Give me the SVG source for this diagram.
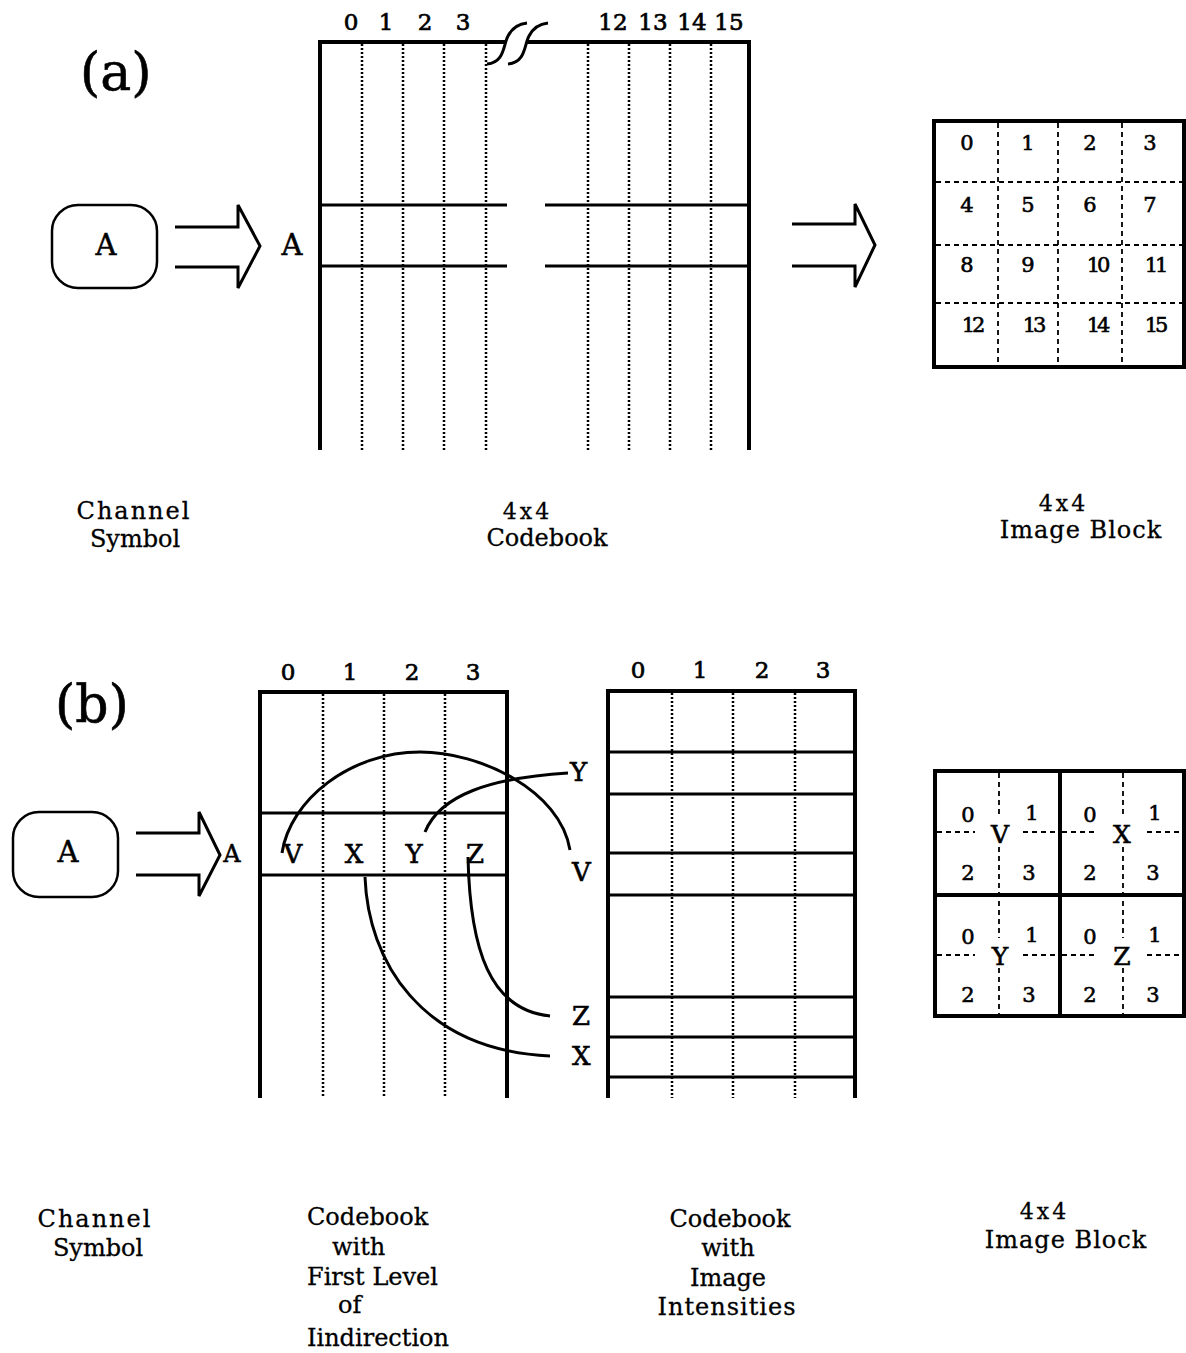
<svg xmlns="http://www.w3.org/2000/svg" width="1186" height="1353" viewBox="0 0 1186 1353">
<style>
text{font-family:"DejaVu Serif","Liberation Serif",serif;fill:#000;stroke:#000;stroke-width:0.3}
.lbl{font-size:24px}
.hdr{font-size:23px;text-anchor:middle;stroke-width:0.7}
.num{font-size:21px;text-anchor:middle;stroke-width:0.6}
.let{font-size:26px;stroke-width:0.6}
.big{font-size:52px;stroke-width:0.6}
.mid{text-anchor:middle}
.thick{stroke:#000;stroke-width:4;fill:none}
.line{stroke:#000;stroke-width:3;fill:none}
.dot{stroke:#000;stroke-width:2.5;stroke-dasharray:2 2;fill:none}
.dash{stroke:#000;stroke-width:1.8;stroke-dasharray:5 4;fill:none}
.arrow{stroke:#000;stroke-width:3;fill:none;stroke-linejoin:miter}
.box{stroke:#000;stroke-width:2.5;fill:none}
.curve{stroke:#000;stroke-width:3;fill:none}
</style>
<rect width="1186" height="1353" fill="#fff" stroke="none"/>

<!-- ===== Part (a) ===== -->
<text class="big" x="80" y="90">(a)</text>

<g id="channel-a">
  <rect class="box" x="52" y="205" width="105" height="83" rx="26"/>
  <text class="mid" x="106" y="255" style="font-size:29px;stroke-width:0.5">A</text>
</g>

<g id="arrow-a1">
  <polyline class="arrow" points="175,227 238,227 238,205 260,246 238,288 238,267 175,267"/>
</g>

<g id="codebook-a">
  <text x="292" y="255" text-anchor="middle" style="font-size:29px;stroke-width:0.5">A</text>
  <g>
    <text class="hdr" x="351" y="30">0</text>
    <text class="hdr" x="386" y="30">1</text>
    <text class="hdr" x="425" y="30">2</text>
    <text class="hdr" x="463" y="30">3</text>
    <text class="hdr" x="613" y="30">12</text>
    <text class="hdr" x="653" y="30">13</text>
    <text class="hdr" x="692" y="30">14</text>
    <text class="hdr" x="729" y="30">15</text>
  </g>
  <line class="thick" x1="320" y1="40" x2="320" y2="450"/>
  <line class="thick" x1="749" y1="40" x2="749" y2="450"/>
  <line class="thick" x1="318" y1="42" x2="505" y2="42"/>
  <line class="thick" x1="527" y1="42" x2="751" y2="42"/>
  <path class="line" d="M487,64 C505,62 503,45 508,36 C512,28 518,24 527,23"/>
  <path class="line" d="M508,64 C526,62 524,45 529,36 C533,28 539,24 548,23"/>
  <line class="dot" x1="362" y1="44" x2="362" y2="450"/>
  <line class="dot" x1="403" y1="44" x2="403" y2="450"/>
  <line class="dot" x1="444" y1="44" x2="444" y2="450"/>
  <line class="dot" x1="486" y1="44" x2="486" y2="450"/>
  <line class="dot" x1="588" y1="44" x2="588" y2="450"/>
  <line class="dot" x1="629" y1="44" x2="629" y2="450"/>
  <line class="dot" x1="670" y1="44" x2="670" y2="450"/>
  <line class="dot" x1="711" y1="44" x2="711" y2="450"/>
  <line class="line" x1="320" y1="205" x2="507" y2="205"/>
  <line class="line" x1="545" y1="205" x2="749" y2="205"/>
  <line class="line" x1="320" y1="266" x2="507" y2="266"/>
  <line class="line" x1="545" y1="266" x2="749" y2="266"/>
</g>

<g id="arrow-a2">
  <polyline class="arrow" points="792,224 855,224 855,204 875,245 855,287 855,266 792,266"/>
</g>

<g id="block-a">
  <rect x="934" y="121" width="250" height="246" fill="none" stroke="#000" stroke-width="4"/>
  <line class="dash" x1="998" y1="123" x2="998" y2="365"/>
  <line class="dash" x1="1058" y1="123" x2="1058" y2="365"/>
  <line class="dash" x1="1122" y1="123" x2="1122" y2="365"/>
  <line class="dash" x1="936" y1="182" x2="1182" y2="182"/>
  <line class="dash" x1="936" y1="245" x2="1182" y2="245"/>
  <line class="dash" x1="936" y1="303" x2="1182" y2="303"/>
  <text class="num" x="967" y="150">0</text>
  <text class="num" x="1028" y="150">1</text>
  <text class="num" x="1090" y="150">2</text>
  <text class="num" x="1150" y="150">3</text>
  <text class="num" x="967" y="212">4</text>
  <text class="num" x="1028" y="212">5</text>
  <text class="num" x="1090" y="212">6</text>
  <text class="num" x="1150" y="212">7</text>
  <text class="num" x="967" y="272">8</text>
  <text class="num" x="1028" y="272">9</text>
  <text class="num" x="1097" y="272" letter-spacing="-3">10</text>
  <text class="num" x="1155" y="272" letter-spacing="-3">11</text>
  <text class="num" x="972" y="332" letter-spacing="-3">12</text>
  <text class="num" x="1033" y="332" letter-spacing="-3">13</text>
  <text class="num" x="1097" y="332" letter-spacing="-3">14</text>
  <text class="num" x="1155" y="332" letter-spacing="-3">15</text>
</g>

<g id="labels-a">
  <text class="lbl mid" x="134" y="519" letter-spacing="2">Channel</text>
  <text class="lbl mid" x="135" y="547">Symbol</text>
  <text class="mid" x="526" y="519" word-spacing="-4" style="font-size:22px">4 x 4</text>
  <text class="lbl mid" x="547" y="546">Codebook</text>
  <text class="mid" x="1062" y="511" word-spacing="-4" style="font-size:22px">4 x 4</text>
  <text class="lbl mid" x="1081" y="538" letter-spacing="1">Image Block</text>
</g>

<!-- ===== Part (b) ===== -->
<text class="big" x="55" y="722">(b)</text>

<g id="channel-b">
  <rect class="box" x="13" y="812" width="105" height="85" rx="26"/>
  <text class="mid" x="68" y="862" style="font-size:29px;stroke-width:0.5">A</text>
</g>

<g id="arrow-b">
  <polyline class="arrow" points="136,833 199,833 199,812 220,855 199,896 199,875 136,875"/>
</g>

<g id="codebook-indirection">
  <text x="232" y="862" text-anchor="middle" style="font-size:24px;stroke-width:0.5">A</text>
  <text class="hdr" x="288" y="680">0</text>
  <text class="hdr" x="350" y="680">1</text>
  <text class="hdr" x="412" y="680">2</text>
  <text class="hdr" x="473" y="680">3</text>
  <line class="thick" x1="260" y1="690" x2="260" y2="1098"/>
  <line class="thick" x1="507" y1="690" x2="507" y2="1098"/>
  <line class="thick" x1="258" y1="692" x2="509" y2="692"/>
  <line class="dot" x1="323" y1="694" x2="323" y2="1098"/>
  <line class="dot" x1="384" y1="694" x2="384" y2="1098"/>
  <line class="dot" x1="445" y1="694" x2="445" y2="1098"/>
  <line class="line" x1="260" y1="813" x2="507" y2="813"/>
  <line class="line" x1="260" y1="875" x2="507" y2="875"/>
  <text class="let mid" x="293" y="863">V</text>
  <text class="let mid" x="354" y="863">X</text>
  <text class="let mid" x="414" y="863">Y</text>
  <text class="let mid" x="475" y="863">Z</text>
</g>

<g id="codebook-intensities">
  <text class="hdr" x="638" y="678">0</text>
  <text class="hdr" x="700" y="678">1</text>
  <text class="hdr" x="762" y="678">2</text>
  <text class="hdr" x="823" y="678">3</text>
  <line class="thick" x1="608" y1="689" x2="608" y2="1098"/>
  <line class="thick" x1="855" y1="689" x2="855" y2="1098"/>
  <line class="thick" x1="606" y1="691" x2="857" y2="691"/>
  <line class="dot" x1="672" y1="693" x2="672" y2="1098"/>
  <line class="dot" x1="733" y1="693" x2="733" y2="1098"/>
  <line class="dot" x1="795" y1="693" x2="795" y2="1098"/>
  <line class="line" x1="608" y1="752" x2="855" y2="752"/>
  <line class="line" x1="608" y1="794" x2="855" y2="794"/>
  <line class="line" x1="608" y1="853" x2="855" y2="853"/>
  <line class="line" x1="608" y1="895" x2="855" y2="895"/>
  <line class="line" x1="608" y1="997" x2="855" y2="997"/>
  <line class="line" x1="608" y1="1037" x2="855" y2="1037"/>
  <line class="line" x1="608" y1="1077" x2="855" y2="1077"/>
</g>

<g id="connectors">
  <path class="curve" d="M282,853 C290,800 350,752 420,752 C480,752 560,790 570,850"/>
  <path class="curve" d="M425,832 C440,795 490,778 568,773"/>
  <path class="curve" d="M365,877 C368,960 420,1050 550,1056"/>
  <path class="curve" d="M468,857 C470,950 490,1010 550,1016"/>
  <text class="let" x="570" y="781">Y</text>
  <text class="let" x="572" y="881">V</text>
  <text class="let" x="572" y="1025">Z</text>
  <text class="let" x="572" y="1065">X</text>
</g>

<g id="block-b">
  <rect x="935" y="771" width="249" height="245" fill="none" stroke="#000" stroke-width="4"/>
  <line class="thick" x1="1060" y1="771" x2="1060" y2="1016"/>
  <line class="thick" x1="935" y1="895" x2="1184" y2="895"/>
  <g class="dash">
    <line x1="999" y1="773" x2="999" y2="816"/>
    <line x1="999" y1="847" x2="999" y2="938"/>
    <line x1="999" y1="968" x2="999" y2="1014"/>
    <line x1="1123" y1="773" x2="1123" y2="816"/>
    <line x1="1123" y1="847" x2="1123" y2="938"/>
    <line x1="1123" y1="968" x2="1123" y2="1014"/>
    <line x1="937" y1="832" x2="975" y2="832"/>
    <line x1="1023" y1="832" x2="1058" y2="832"/>
    <line x1="1062" y1="832" x2="1097" y2="832"/>
    <line x1="1147" y1="832" x2="1182" y2="832"/>
    <line x1="937" y1="955" x2="975" y2="955"/>
    <line x1="1023" y1="955" x2="1058" y2="955"/>
    <line x1="1062" y1="955" x2="1097" y2="955"/>
    <line x1="1147" y1="955" x2="1182" y2="955"/>
  </g>
  <text class="num" x="968" y="822">0</text>
  <text class="num" x="1032" y="820">1</text>
  <text class="num" x="968" y="880">2</text>
  <text class="num" x="1029" y="880">3</text>
  <text class="num" x="1000" y="843" style="font-size:25px">V</text>
  <text class="num" x="1090" y="822">0</text>
  <text class="num" x="1155" y="820">1</text>
  <text class="num" x="1090" y="880">2</text>
  <text class="num" x="1153" y="880">3</text>
  <text class="num" x="1122" y="843" style="font-size:25px">X</text>
  <text class="num" x="968" y="944">0</text>
  <text class="num" x="1032" y="942">1</text>
  <text class="num" x="968" y="1002">2</text>
  <text class="num" x="1029" y="1002">3</text>
  <text class="num" x="1000" y="965" style="font-size:25px">Y</text>
  <text class="num" x="1090" y="944">0</text>
  <text class="num" x="1155" y="942">1</text>
  <text class="num" x="1090" y="1002">2</text>
  <text class="num" x="1153" y="1002">3</text>
  <text class="num" x="1122" y="965" style="font-size:25px">Z</text>
</g>

<g id="labels-b">
  <text class="lbl mid" x="95" y="1227" letter-spacing="2">Channel</text>
  <text class="lbl mid" x="98" y="1256">Symbol</text>
  <text class="lbl" x="307" y="1225">Codebook</text>
  <text class="lbl" x="332" y="1255">with</text>
  <text class="lbl" x="307" y="1285">First Level</text>
  <text class="lbl" x="338" y="1313">of</text>
  <text class="lbl" x="307" y="1346">Iindirection</text>
  <text class="lbl mid" x="730" y="1227">Codebook</text>
  <text class="lbl mid" x="728" y="1256">with</text>
  <text class="lbl mid" x="728" y="1286">Image</text>
  <text class="lbl mid" x="727" y="1315" letter-spacing="1">Intensities</text>
  <text class="mid" x="1043" y="1219" word-spacing="-4" style="font-size:22px">4 x 4</text>
  <text class="lbl mid" x="1066" y="1248" letter-spacing="1">Image Block</text>
</g>
</svg>
